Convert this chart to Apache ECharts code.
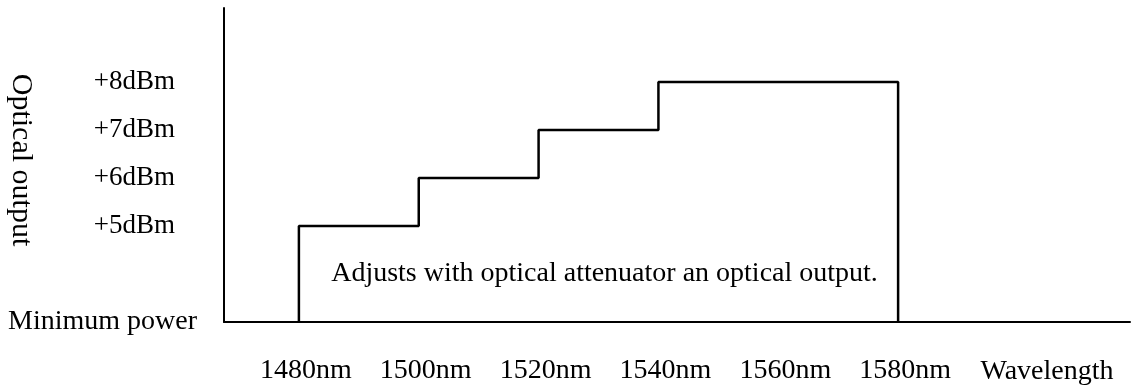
<!DOCTYPE html>
<html>
<head>
<meta charset="utf-8">
<script src="https://cdn.jsdelivr.net/npm/echarts@6/dist/echarts.min.js"></script>
<style>
html,body{margin:0;padding:0;background:#fff;}
#chart{width:1134px;height:387px;}
</style>
</head>
<body>
<div id="chart"></div>
<script>
// ---- data ----
const xTickValues = [1480, 1500, 1520, 1540, 1560, 1580];
const xTickLabels = ['1480nm', '1500nm', '1520nm', '1540nm', '1560nm', '1580nm'];
const yTickValues = [3, 5, 6, 7, 8];
const yTickLabels = ['Minimum power', '+5dBm', '+6dBm', '+7dBm', '+8dBm'];
const stepWavelength = [1480, 1480, 1500, 1500, 1520, 1520, 1540, 1540, 1580, 1580];
const stepLevel = [3, 5, 5, 6, 6, 7, 7, 8, 8, 3];
const xAxisTitle = 'Wavelength';
const yAxisTitle = 'Optical output';
const noteText = 'Adjusts with optical attenuator an optical output.';
const notePosition = [1531, 4];

const FONT = "'Liberation Serif', 'Times New Roman', serif";
const chart = echarts.init(document.getElementById('chart'), null, {renderer: 'canvas'});

const stepData = stepWavelength.map((x, i) => [x, stepLevel[i]]);

chart.setOption({
  animation: false,
  backgroundColor: '#fff',
  grid: {left: 224, right: 4, top: 8, bottom: 65, containLabel: false},
  xAxis: {
    type: 'value',
    min: 1467.5,
    max: 1618.7,
    axisLine: {show: true, onZero: false, lineStyle: {color: '#000', width: 2}},
    axisTick: {show: false},
    splitLine: {show: false},
    axisLabel: {
      customValues: xTickValues,
      showMinLabel: true, showMaxLabel: true,
      hideOverlap: false,
      margin: 35,
      color: '#000', fontFamily: FONT, fontSize: 28,
      padding: [0, 0, 0, 14],
      formatter: v => {
        const i = xTickValues.indexOf(v);
        return i >= 0 ? xTickLabels[i] : '';
      }
    }
  },
  yAxis: {
    type: 'value',
    min: 3,
    max: 9.54,
    axisLine: {show: true, onZero: false, lineStyle: {color: '#000', width: 2}},
    axisTick: {show: false},
    splitLine: {show: false},
    axisLabel: {
      customValues: yTickValues,
      hideOverlap: false,
      margin: 27,
      formatter: v => {
        const i = yTickValues.indexOf(v);
        if (i < 0) return '';
        return i === 0 ? '{m|' + yTickLabels[i] + '}' : '{d|' + yTickLabels[i] + '}';
      },
      rich: {
        m: {color: '#000', fontFamily: FONT, fontSize: 28},
        d: {color: '#000', fontFamily: FONT, fontSize: 27, padding: [0, 22, 0, 0]}
      }
    }
  },
  graphic: [
    {
      type: 'text', x: 1047, y: 372,
      style: {text: xAxisTitle, fill: '#000', font: '28px ' + FONT, align: 'center', verticalAlign: 'middle'}
    },
    {
      type: 'text', x: 21, y: 160, rotation: -Math.PI / 2,
      style: {text: yAxisTitle, fill: '#000', font: '30px ' + FONT, align: 'center', verticalAlign: 'middle'}
    }
  ],
  series: [{
    type: 'line',
    data: stepData,
    symbol: 'none',
    lineStyle: {color: '#000', width: 2.5},
    markPoint: {
      symbol: 'circle', symbolSize: 0,
      label: {show: true, position: 'inside', color: '#000', fontFamily: FONT, fontSize: 28, formatter: noteText},
      data: [{coord: notePosition}]
    }
  }]
});
</script>
</body>
</html>
